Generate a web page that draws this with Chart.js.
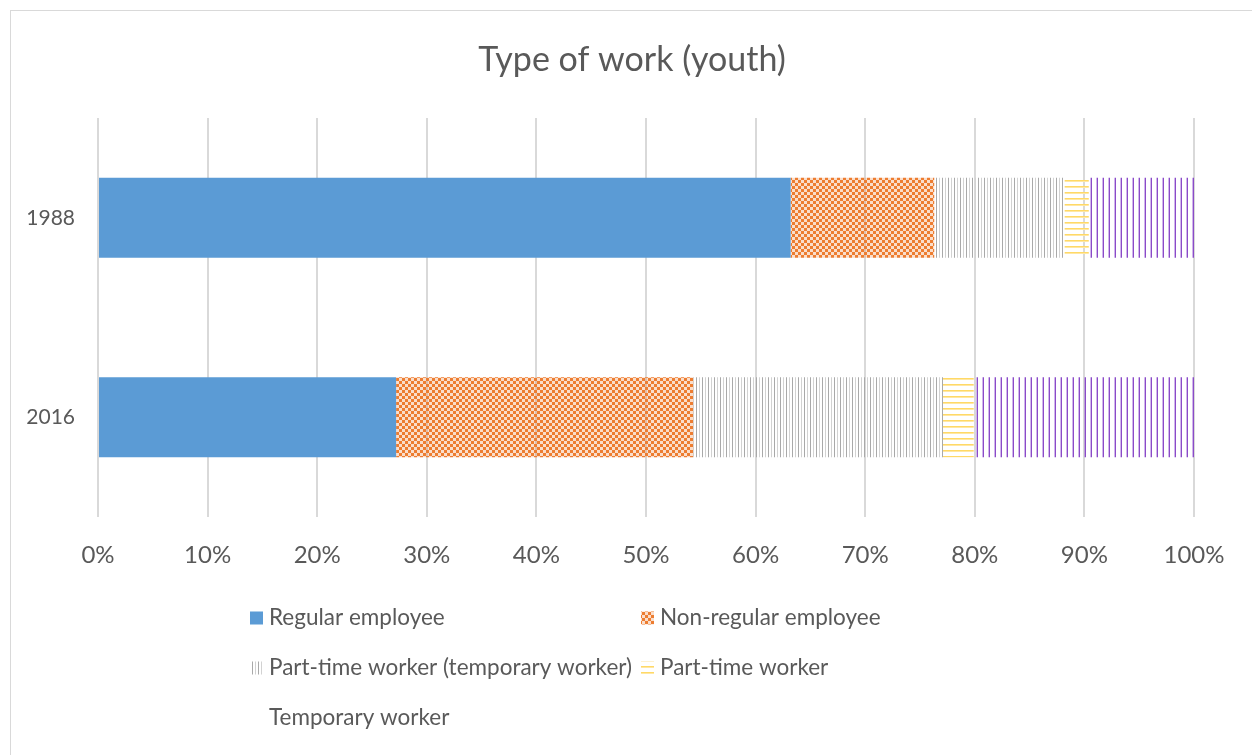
<!DOCTYPE html>
<html>
<head>
<meta charset="utf-8">
<script src="https://cdn.jsdelivr.net/npm/chart.js@4/dist/chart.umd.min.js"></script>
<style>
  html, body { margin: 0; padding: 0; background: #ffffff; }
  #wrap { width: 1252px; height: 755px; position: relative; }
</style>
</head>
<body>
<div id="wrap"><canvas id="c" width="1252" height="755"></canvas></div>
<script>
// Share of each type of work among young workers (percent of total)
const categories = ['1988', '2016'];
const regularEmployee    = [63.2, 27.2];
const nonRegularEmployee = [13.1, 27.1];
const partTimeTemporary  = [11.9, 22.8];
const partTimeWorker     = [2.2, 2.8];
const temporaryWorker    = [9.6, 20.1];
const seriesNames = [
  'Regular employee',
  'Non-regular employee',
  'Part-time worker (temporary worker)',
  'Part-time worker',
  'Temporary worker'
];
const xTickLabels = ['0%', '10%', '20%', '30%', '40%', '50%', '60%', '70%', '80%', '90%', '100%'];
const chartTitle = 'Type of work (youth)';

const FONT = 'Lato, "Open Sans", sans-serif';
const TEXT = '#595959';

// Small tiled fills
function makePattern(w, h, paint) {
  const cv = document.createElement('canvas');
  cv.width = w; cv.height = h;
  const g = cv.getContext('2d');
  paint(g);
  return document.getElementById('c').getContext('2d').createPattern(cv, 'repeat');
}
const checkerOrange = makePattern(6, 6, g => {
  g.fillStyle = '#ED7D31';
  g.fillRect(0, 0, 3, 3);
  g.fillRect(3, 3, 3, 3);
  g.fillStyle = 'rgba(237,125,49,0.25)';
  g.fillRect(3, 0, 3, 3);
  g.fillRect(0, 3, 3, 3);
});
const greyVertical = makePattern(6, 6, g => {
  g.fillStyle = '#A9A9A9';
  g.fillRect(0, 0, 1, 6);
  g.fillStyle = '#D2D2D2';
  g.fillRect(3, 0, 1, 6);
});
const yellowHorizontal = makePattern(6, 6, g => {
  g.fillStyle = '#FFD966';
  g.fillRect(0, 0, 6, 1);
  g.fillStyle = '#FFE7A3';
  g.fillRect(0, 1, 6, 1);
});
const purpleVertical = makePattern(6, 6, g => {
  g.fillStyle = 'rgba(150,90,210,0.45)';
  g.fillRect(4, 0, 1, 6);
  g.fillStyle = '#8A4BC8';
  g.fillRect(5, 0, 1, 6);
});

const fills = ['#5B9BD5', checkerOrange, greyVertical, yellowHorizontal, purpleVertical];
const values = [regularEmployee, nonRegularEmployee, partTimeTemporary, partTimeWorker, temporaryWorker];

const datasets = seriesNames.map((name, i) => ({
  label: name,
  data: values[i],
  backgroundColor: fills[i],
  borderWidth: 0,
  categoryPercentage: 0.5,
  barPercentage: 0.8,
  legendSwatch: i !== 4
}));

// Thin frame around the whole chart, plus the heading centred on the frame
const framePlugin = {
  id: 'frame',
  beforeDraw(chart, args, opts) {
    const ctx = chart.ctx;
    ctx.save();
    ctx.fillStyle = '#ffffff';
    ctx.fillRect(0, 0, chart.width, chart.height);
    ctx.strokeStyle = '#D9D9D9';
    ctx.lineWidth = 1;
    ctx.strokeRect(10.5, 10.5, chart.width + 20, chart.height + 20);
    ctx.font = opts.titleSize + 'px ' + FONT;
    ctx.fillStyle = TEXT;
    ctx.textAlign = 'center';
    ctx.textBaseline = 'middle';
    ctx.fillText(chartTitle, opts.titleX, opts.titleY);
    ctx.restore();
  }
};

// Two-column legend below the axis
const gridLegendPlugin = {
  id: 'gridLegend',
  afterDraw(chart, args, opts) {
    const ctx = chart.ctx;
    ctx.save();
    ctx.font = opts.fontSize + 'px ' + FONT;
    ctx.textBaseline = 'middle';
    ctx.textAlign = 'left';
    chart.data.datasets.forEach((ds, i) => {
      const x = opts.cols[i % 2];
      const y = opts.rows[Math.floor(i / 2)];
      if (ds.legendSwatch) {
        ctx.fillStyle = ds.backgroundColor;
        ctx.fillRect(x, y - opts.box / 2, opts.box, opts.box);
      }
      ctx.fillStyle = TEXT;
      ctx.fillText(ds.label, x + opts.box + opts.gap, y);
    });
    ctx.restore();
  }
};

new Chart(document.getElementById('c'), {
  type: 'bar',
  data: { labels: categories, datasets },
  plugins: [framePlugin, gridLegendPlugin],
  options: {
    indexAxis: 'y',
    responsive: false,
    animation: false,
    devicePixelRatio: 1,
    layout: { padding: { left: 12, right: 58, top: 118, bottom: 178 } },
    plugins: {
      legend: { display: false },
      tooltip: { enabled: false },
      title: { display: false },
      frame: { titleX: 632, titleY: 60, titleSize: 34 },
      gridLegend: { cols: [250, 641], rows: [618, 668, 718], box: 13, gap: 6, fontSize: 22.5 }
    },
    scales: {
      x: {
        stacked: true,
        min: 0,
        max: 100,
        ticks: {
          stepSize: 10,
          color: TEXT,
          font: { family: FONT, size: 24 },
          padding: 24,
          callback: (v, i) => xTickLabels[i]
        },
        grid: { color: '#D9D9D9', lineWidth: 2, drawTicks: false },
        border: { display: false },
        afterFit(scale) { scale.height = 60; }
      },
      y: {
        stacked: true,
        ticks: {
          color: TEXT,
          font: { family: FONT, size: 21 },
          padding: 23
        },
        grid: { display: false, drawTicks: false },
        border: { display: false },
        afterFit(scale) { scale.width = 86; }
      }
    }
  }
});
</script>
</body>
</html>
